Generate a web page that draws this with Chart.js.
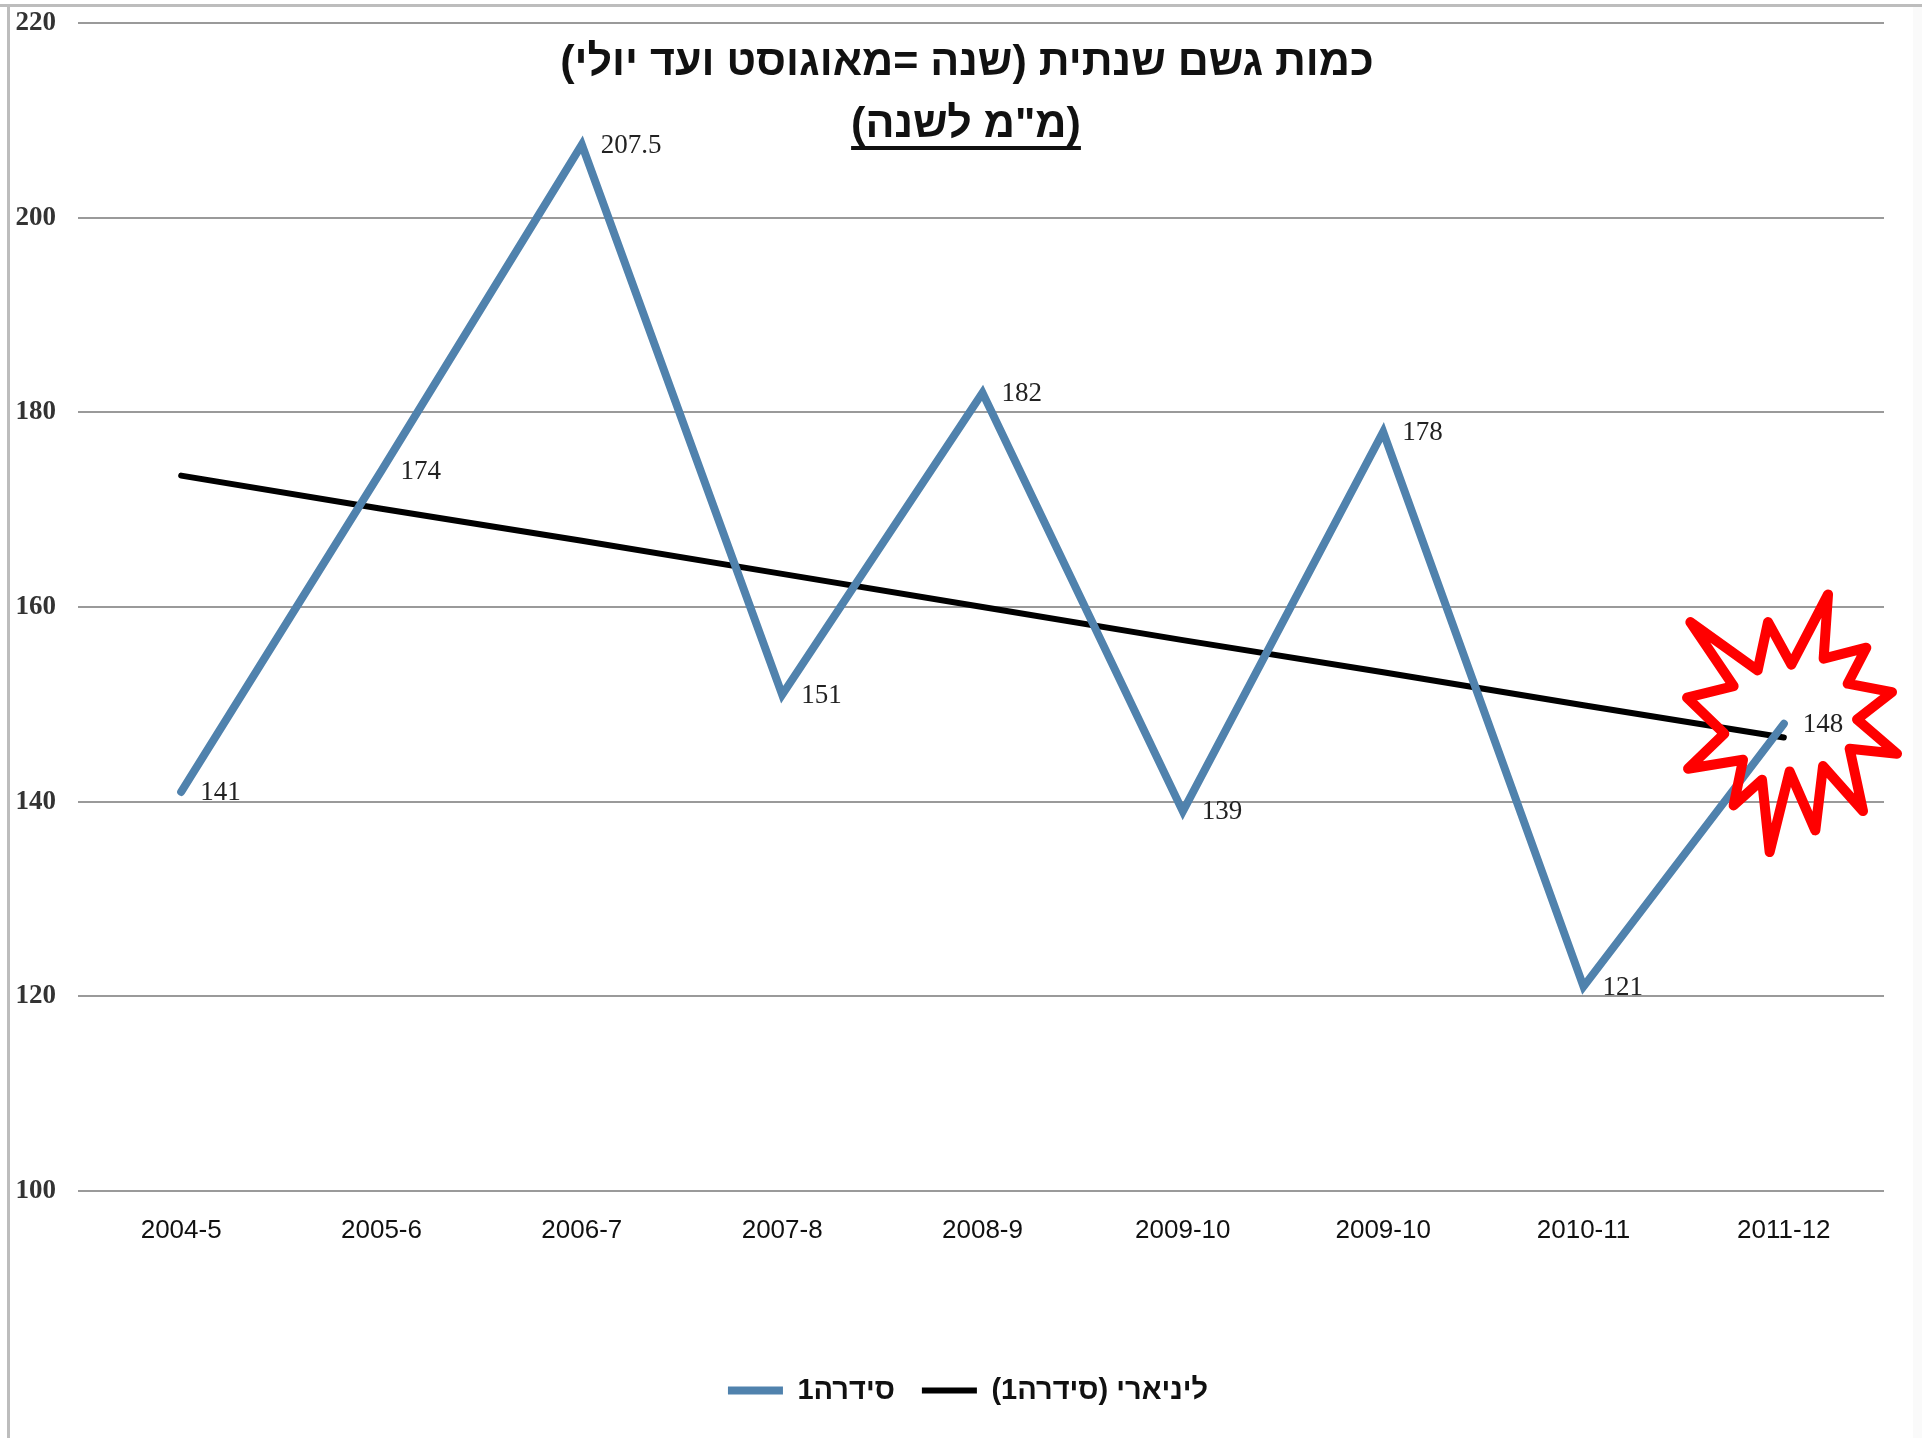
<!DOCTYPE html>
<html lang="he">
  <head>
    <meta charset="UTF-8" />
    <title>כמות גשם שנתית</title>
    <script src="https://cdn.jsdelivr.net/npm/chart.js@4/dist/chart.umd.js"></script>
    <style>
      html, body { margin: 0; padding: 0; background: #fff; }
      canvas { display: block; }
    </style>
  </head>
  <body>
    <canvas id="chart" width="1922" height="1438"></canvas>
    <script>
      var years = ['2004-5', '2005-6', '2006-7', '2007-8', '2008-9', '2009-10', '2009-10', '2010-11', '2011-12'];
      var rainfall = [141, 174, 207.5, 151, 182, 139, 178, 121, 148];
      var trend = [173.5, 170.1, 166.8, 163.4, 160, 156.6, 153.3, 149.9, 146.6];
      var rainfallLabels = ['141', '174', '207.5', '151', '182', '139', '178', '121', '148'];
      var seriesNames = ['סידרה1', 'ליניארי (סידרה1)'];
      var titleLines = ['כמות גשם שנתית (שנה =מאוגוסט ועד יולי)', '(מ"מ לשנה)'];

      // burst shape around the last point, offsets in px from that point
      var burst = [
        [-93.5, -101.7], [-26.2, -53.4], [-15.8, -101.7], [7.5, -59.1], [44.2, -129.4], [39.8, -65.1],
        [82.5, -76.1], [63.8, -40.1], [108.2, -31.7], [73.2, -4.4], [113.2, 29.9], [65.8, 24.9],
        [79.2, 87.3], [39.2, 42.3], [31.5, 106.6], [5.8, 47.6], [-14.2, 128.3], [-21.8, 55.9],
        [-50.2, 81.6], [-40.8, 35.9], [-95.8, 44.9], [-59.5, 9.9], [-96.8, -26.1], [-50.2, -37.7]
      ];

      var extras = {
        id: 'extras',
        beforeDraw(chart) {
          var ctx = chart.ctx;
          ctx.save();
          ctx.fillStyle = '#fafafa';
          ctx.fillRect(1913, 7, 9, 1431);
          ctx.fillStyle = '#bdbdbd';
          ctx.fillRect(0, 4, 1922, 3);
          ctx.fillRect(7, 4, 3, 1434);
          ctx.restore();
        },
        afterDatasetsDraw(chart) {
          var ctx = chart.ctx;
          var pts = chart.getDatasetMeta(0).data;

          // value labels
          ctx.save();
          ctx.font = '27px "Liberation Serif"';
          ctx.fillStyle = '#222';
          ctx.textAlign = 'left';
          ctx.textBaseline = 'middle';
          pts.forEach(function (p, i) {
            ctx.fillText(rainfallLabels[i], p.x + 19, p.y + 1);
          });
          ctx.restore();

          // title
          ctx.save();
          ctx.fillStyle = '#111';
          ctx.textAlign = 'center';
          ctx.textBaseline = 'middle';
          ctx.direction = 'rtl';
          ctx.font = 'bold 43px "Liberation Sans"';
          ctx.fillText(titleLines[0], 967, 63);
          ctx.fillText(titleLines[1], 966, 125);
          var w = ctx.measureText(titleLines[1]).width;
          ctx.fillRect(966 - w / 2, 146, w, 4);
          ctx.restore();

          // red burst
          var last = pts[pts.length - 1];
          ctx.save();
          ctx.strokeStyle = '#ff0000';
          ctx.lineWidth = 10;
          ctx.lineJoin = 'round';
          ctx.beginPath();
          burst.forEach(function (b, i) {
            if (i === 0) ctx.moveTo(last.x + b[0], last.y + b[1]);
            else ctx.lineTo(last.x + b[0], last.y + b[1]);
          });
          ctx.closePath();
          ctx.stroke();
          ctx.restore();
        }
      };

      var chart = new Chart(document.getElementById('chart'), {
        type: 'line',
        data: {
          labels: years,
          datasets: [
            { label: seriesNames[0], data: rainfall, borderColor: '#5082ad', backgroundColor: '#5082ad', borderWidth: 8, pointRadius: 0, tension: 0, borderCapStyle: 'round', borderJoinStyle: 'miter' },
            { label: seriesNames[1], data: trend, borderColor: '#000', backgroundColor: '#000', borderWidth: 6, pointRadius: 0, tension: 0, borderCapStyle: 'round' }
          ]
        },
        options: {
          responsive: false,
          animation: false,
          layout: { padding: { top: 23, right: 0, bottom: 23, left: 14 } },
          plugins: {
            tooltip: { enabled: false },
            title: { display: false },
            legend: {
              position: 'bottom',
              textDirection: 'rtl',
              labels: {
                usePointStyle: true,
                pointStyle: 'line',
                pointStyleWidth: 55,
                color: '#111',
                padding: 27,
                font: { family: '"Liberation Sans"', size: 29, weight: 'bold' }
              }
            }
          },
          scales: {
            x: {
              offset: true,
              afterFit(s) { s.height = 158; },
              grid: { display: false },
              border: { display: false },
              ticks: { color: '#111', padding: 16, maxRotation: 0, autoSkip: false, font: { family: '"Liberation Sans"', size: 26 } }
            },
            y: {
              min: 100,
              max: 220,
              afterFit(s) { s.width = 67; s.paddingTop = 0; s.paddingBottom = 0; },
              grid: { color: '#9a9a9a', lineWidth: 2, tickLength: 3, tickColor: '#9a9a9a' },
              border: { display: false },
              ticks: { stepSize: 20, color: '#333', padding: 22, font: { family: '"Liberation Serif"', size: 27, weight: 'bold' } }
            },
            // empty axis, only holds the margin right of the plot so the legend stays centred
            margin: {
              position: 'right',
              afterFit(s) { s.width = 38; s.paddingTop = 0; s.paddingBottom = 0; },
              grid: { display: false },
              border: { display: false },
              ticks: { display: false }
            }
          }
        },
        plugins: [extras]
      });
    </script>
  </body>
</html>
